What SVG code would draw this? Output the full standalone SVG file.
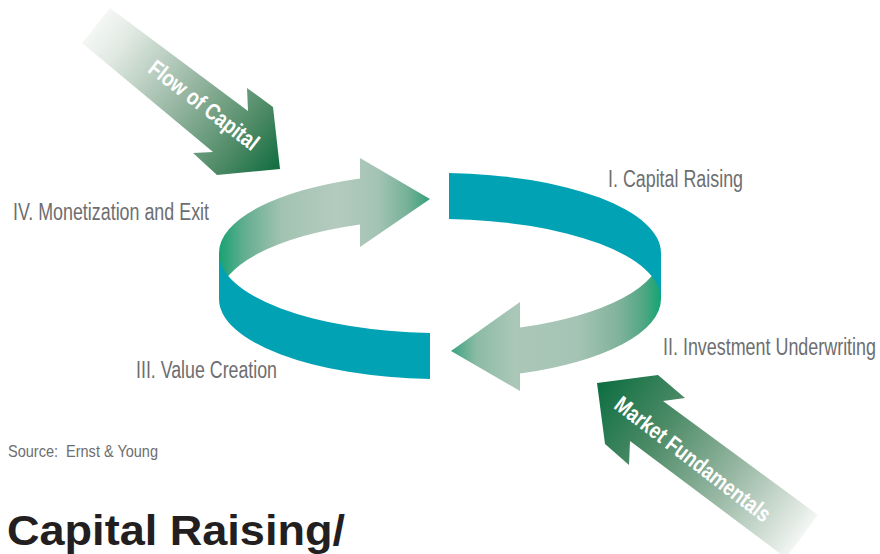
<svg xmlns="http://www.w3.org/2000/svg" width="880" height="554" viewBox="0 0 880 554">
  <defs>
    <!-- green ribbon shading, back arc (left half) -->
    <linearGradient id="ribbonBack" gradientUnits="userSpaceOnUse" x1="219" y1="0" x2="430" y2="0">
      <stop offset="0" stop-color="#17a273"/>
      <stop offset="0.12" stop-color="#62ae90"/>
      <stop offset="0.3" stop-color="#a3c3b2"/>
      <stop offset="0.55" stop-color="#b3cbbf"/>
      <stop offset="0.75" stop-color="#a5c4b5"/>
      <stop offset="0.9" stop-color="#73b096"/>
      <stop offset="1" stop-color="#33a07a"/>
    </linearGradient>
    <!-- green ribbon shading, front arc (right half) -->
    <linearGradient id="ribbonFront" gradientUnits="userSpaceOnUse" x1="451" y1="0" x2="661" y2="0">
      <stop offset="0" stop-color="#3aa27f"/>
      <stop offset="0.12" stop-color="#8bbba5"/>
      <stop offset="0.3" stop-color="#aac7b8"/>
      <stop offset="0.6" stop-color="#a6c4b5"/>
      <stop offset="0.8" stop-color="#80b39b"/>
      <stop offset="0.92" stop-color="#4fa683"/>
      <stop offset="1" stop-color="#12a572"/>
    </linearGradient>
    <linearGradient id="flowFill" gradientUnits="userSpaceOnUse" x1="92" y1="22" x2="280" y2="170">
      <stop offset="0" stop-color="#f7f9f7"/>
      <stop offset="0.15" stop-color="#e2eae4"/>
      <stop offset="0.5" stop-color="#95b5a0"/>
      <stop offset="0.8" stop-color="#4c8964"/>
      <stop offset="1" stop-color="#0e6c3f"/>
    </linearGradient>
    <linearGradient id="marketFill" gradientUnits="userSpaceOnUse" x1="600" y1="385" x2="812" y2="540">
      <stop offset="0" stop-color="#0f6f42"/>
      <stop offset="0.3" stop-color="#4e8c68"/>
      <stop offset="0.62" stop-color="#9ab9a5"/>
      <stop offset="0.9" stop-color="#e1e9e3"/>
      <stop offset="1" stop-color="#ffffff"/>
    </linearGradient>
    <style>
      .band { fill: #01a2b3; }
      .stage { font-family: "Liberation Sans", Arial, sans-serif; font-size: 23px; fill: #6d6e70; }
      .source { font-family: "Liberation Sans", Arial, sans-serif; font-size: 17px; fill: #6d6e70; }
      .arrow-label { font-family: "Liberation Sans", Arial, sans-serif; font-size: 23px; font-weight: bold; fill: #ffffff; }
      .title { font-family: "Liberation Sans", Arial, sans-serif; font-size: 42px; font-weight: bold; fill: #231f20; }
    </style>
  </defs>

  <!-- cycle ribbon: green arrows drawn first, teal bands on top -->
  <g id="connectors">
    <path id="arc-monetization-to-raising" fill="url(#ribbonBack)"
          d="M219,253 A221,80 0 0 1 360,178.43 L360,158 L430,199 L360,247 L360,224.43 A221,80 0 0 0 219,299 Z"/>
    <path id="arc-underwriting-to-value" fill="url(#ribbonFront)"
          d="M661,253 A221,80 0 0 1 520,327.57 L520,302 L451,351 L520,391 L520,373.57 A221,80 0 0 0 661,299 Z"/>
    <path id="band-value-creation" class="band"
          d="M219,253 A221,80 0 0 0 430,332.92 L430,378.92 A221,80 0 0 1 219,299 Z"/>
    <path id="band-capital-raising" class="band"
          d="M449,173.07 A221,80 0 0 1 661,253 L661,299 A221,80 0 0 0 449,219.07 Z"/>
  </g>

  <g id="stage-capital-raising">
    <text class="stage" x="608" y="187" textLength="135" lengthAdjust="spacingAndGlyphs">I. Capital Raising</text>
  </g>
  <g id="stage-investment-underwriting">
    <text class="stage" x="876" y="355" text-anchor="end" textLength="213" lengthAdjust="spacingAndGlyphs">II. Investment Underwriting</text>
  </g>
  <g id="stage-value-creation">
    <text class="stage" x="136" y="378" textLength="141" lengthAdjust="spacingAndGlyphs">III. Value Creation</text>
  </g>
  <g id="stage-monetization-exit">
    <text class="stage" x="13" y="220" textLength="196" lengthAdjust="spacingAndGlyphs">IV. Monetization and Exit</text>
  </g>

  <g id="flow-of-capital">
    <polygon fill="url(#flowFill)"
             points="110,8 248,111 247,88 273,107 280,169 217,175 193,153 213,152 82,43"/>
    <text class="arrow-label" transform="translate(204,105) rotate(37.5)" x="0" y="8" text-anchor="middle"
          textLength="132" lengthAdjust="spacingAndGlyphs">Flow of Capital</text>
  </g>

  <g id="market-fundamentals">
    <polygon fill="url(#marketFill)"
             points="597,383 658,375 685,398 663,401 818,515 786,558 630,441 629,465 605,444"/>
    <text class="arrow-label" transform="translate(693,459) rotate(37.5)" x="0" y="8" text-anchor="middle"
          textLength="190" lengthAdjust="spacingAndGlyphs">Market Fundamentals</text>
  </g>

  <g id="source">
    <text class="source" x="8" y="457" textLength="150" lengthAdjust="spacingAndGlyphs">Source:&#160; Ernst &amp; Young</text>
  </g>

  <g id="title">
    <text class="title" x="7" y="545" textLength="338" lengthAdjust="spacingAndGlyphs">Capital Raising/</text>
  </g>
</svg>
